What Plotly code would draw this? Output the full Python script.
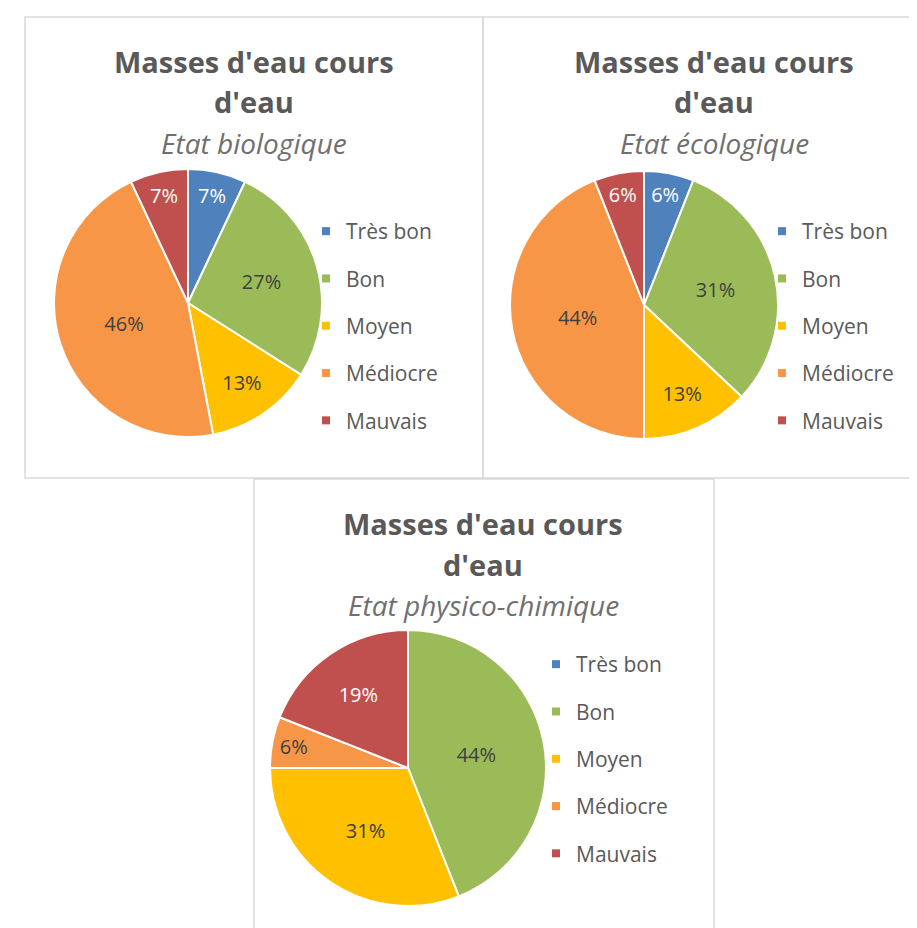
import plotly.graph_objects as go

W, H = 917, 928

categories = ["Très bon", "Bon", "Moyen", "Médiocre", "Mauvais"]
colors = ["#4F81BD", "#9BBB59", "#FFC000", "#F79646", "#C0504D"]
text_colors = ["#FFFFFF", "#404040", "#404040", "#404040", "#FFFFFF"]

title_main = "Masses d'eau cours"
title_line2 = "d'eau"
subtitles = ["Etat biologique", "Etat écologique", "Etat physico-chimique"]

biologique = [7, 27, 13, 46, 7]
ecologique = [6, 31, 13, 44, 6]
physico_chimique = [0, 44, 31, 6, 19]

series = [biologique, ecologique, physico_chimique]


def px(x):
    return x / W


def py(y):
    return 1 - y / H


# positions (pixels): pie center/radius, title center x, title top offset, legend pos
panels = [
    dict(cx=180, cy=295, r=134, tx=246, ty=0, lx=298, ly=203, box=(17, 9, 475, 470)),
    dict(cx=636, cy=297, r=134, tx=706, ty=0, lx=754, ly=203, box=(475, 9, 917, 470)),
    dict(cx=400, cy=760, r=138, tx=475, ty=462, lx=528, ly=636, box=(246, 471, 706, 923)),
]

fig = go.Figure()

for k, (vals, p) in enumerate(zip(series, panels)):
    fig.add_trace(go.Pie(
        labels=categories,
        values=vals,
        sort=False,
        direction="clockwise",
        rotation=0,
        marker=dict(colors=colors, line=dict(color="white", width=2)),
        texttemplate=["" if v == 0 else "%{value}%" for v in vals],
        textposition="inside",
        insidetextorientation="horizontal",
        textfont=dict(family="Open Sans", size=20, color=text_colors),
        showlegend=False,
        hoverinfo="label+value",
        domain=dict(x=[px(p["cx"] - p["r"]), px(p["cx"] + p["r"])],
                    y=[py(p["cy"] + p["r"]), py(p["cy"] - p["r"])]),
    ))
    lname = "legend" if k == 0 else f"legend{k + 1}"
    for cat, col in zip(categories, colors):
        fig.add_trace(go.Scatter(
            x=[None], y=[None], mode="markers",
            marker=dict(symbol="square", size=8, color=col),
            name=cat, legend=lname, legendgroup=f"{k}-{cat}",
            showlegend=True,
        ))

annotations = []
shapes = []
for k, p in enumerate(panels):
    for txt, yc, bold in [(title_main, 53, True), (title_line2, 94, True), (subtitles[k], 135, False)]:
        annotations.append(dict(
            text=f"<b>{txt}</b>" if bold else f"<i>{txt}</i>",
            x=px(p["tx"]), y=py(yc + p["ty"]), xref="paper", yref="paper",
            xanchor="center", yanchor="middle", showarrow=False,
            font=dict(family="Open Sans", size=29 if bold else 28,
                      color="#595959" if bold else "#6f6f6f"),
        ))
    x0, y0, x1, y1 = p["box"]
    shapes.append(dict(type="rect", xref="paper", yref="paper",
                       x0=px(x0), x1=px(x1), y0=py(y1), y1=py(y0),
                       line=dict(color="#d9d9d9", width=1.5)))

legend_style = dict(font=dict(family="Open Sans", size=21, color="#595959"),
                    tracegroupgap=17, bgcolor="rgba(0,0,0,0)",
                    xanchor="left", yanchor="top", itemwidth=30)
fig.update_layout(
    width=W, height=H,
    margin=dict(l=0, r=0, t=0, b=0),
    paper_bgcolor="white", plot_bgcolor="white",
    xaxis=dict(visible=False), yaxis=dict(visible=False),
    annotations=annotations, shapes=shapes,
    legend=dict(x=px(panels[0]["lx"]), y=py(panels[0]["ly"]), **legend_style),
    legend2=dict(x=px(panels[1]["lx"]), y=py(panels[1]["ly"]), **legend_style),
    legend3=dict(x=px(panels[2]["lx"]), y=py(panels[2]["ly"]), **legend_style),
)

fig.write_html("out.html")
